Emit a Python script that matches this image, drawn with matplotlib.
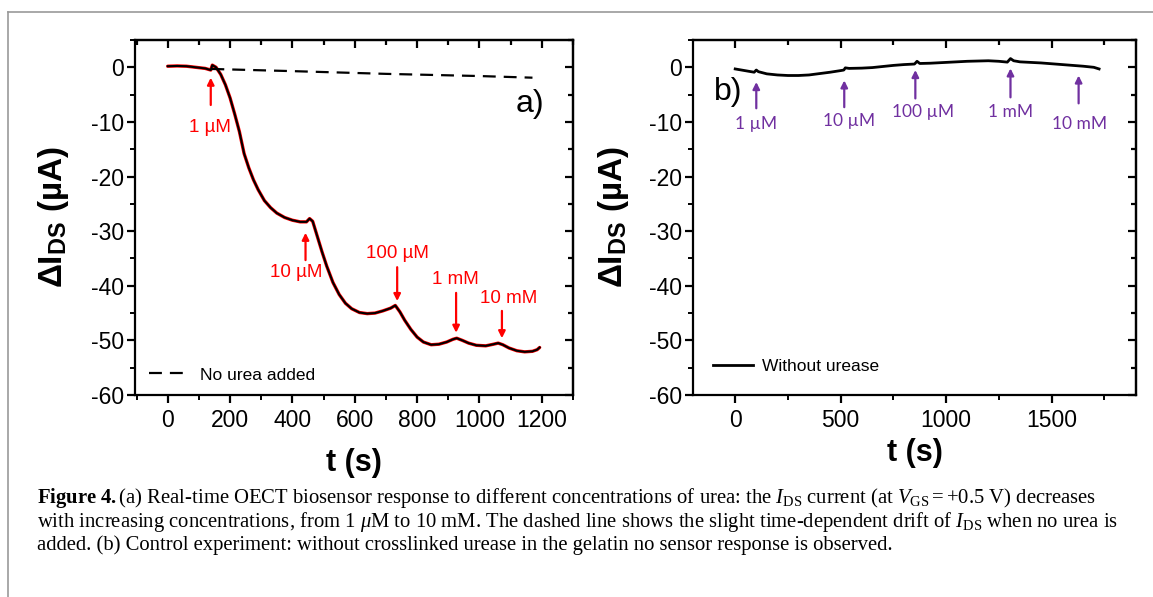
import matplotlib
matplotlib.use('Agg')
import matplotlib.pyplot as plt
from matplotlib.lines import Line2D
from matplotlib.ticker import MultipleLocator

plt.rcParams['font.family'] = ['Liberation Sans', 'DejaVu Sans']
plt.rcParams['axes.unicode_minus'] = False
plt.rcParams['mathtext.fontset'] = 'custom'
plt.rcParams['mathtext.rm'] = 'Liberation Serif'
plt.rcParams['mathtext.it'] = 'Liberation Serif:italic'
plt.rcParams['mathtext.bf'] = 'Liberation Serif:bold'
plt.rcParams['mathtext.sf'] = 'Liberation Sans:bold'

# --- panel a: response to urea ---
t_a = [0, 30, 60, 90, 120, 138, 143, 155, 170, 185, 200, 215, 230, 245, 260, 275, 290,
       310, 330, 350, 375, 400, 425, 445, 455, 465, 480, 495, 510, 530, 550, 570, 590,
       615, 640, 665, 690, 715, 730, 745, 760, 780, 800, 820, 845, 870, 895, 915, 927,
       945, 965, 990, 1020, 1045, 1060, 1075, 1095, 1120, 1145, 1170, 1185, 1193]
i_a = [0.2, 0.25, 0.2, 0.0, -0.2, -0.5, 0.4, 0.0, -1.3, -3.2, -5.6, -8.6, -11.8, -15.8, -18.4,
       -20.6, -22.4, -24.4, -25.7, -26.7, -27.5, -28.0, -28.3, -28.3, -27.7, -28.2, -31.0,
       -33.8, -36.4, -39.4, -41.6, -43.2, -44.2, -44.9, -45.1, -45.0, -44.6, -44.1, -43.6,
       -44.8, -46.3, -48.0, -49.4, -50.3, -50.8, -50.7, -50.3, -49.8, -49.6, -50.0, -50.5,
       -50.9, -51.0, -50.7, -50.5, -50.8, -51.4, -51.9, -52.1, -52.0, -51.7, -51.3]
t_drift = [140, 400, 700, 1000, 1170]
i_drift = [-0.3, -0.7, -1.2, -1.6, -1.9]

conc_labels = ['1 µM', '10 µM', '100 µM', '1 mM', '10 mM']
# arrows for panel a: x, tail y, head y, label x, label y
arr_a_x = [138, 442, 736, 925, 1072]
arr_a_tail = [-6.9, -35.3, -36.6, -41.3, -44.6]
arr_a_head = [-1.9, -30.3, -42.8, -48.6, -49.6]
lab_a_x = [134, 412, 736, 922, 1095]
lab_a_y = [-11.0, -37.6, -34.1, -38.8, -42.3]

# --- panel b: control without urease ---
t_b = [0, 30, 60, 90, 100, 110, 150, 200, 250, 300, 350, 400, 450, 500, 515, 522, 540,
       600, 650, 700, 750, 800, 850, 862, 875, 925, 1000, 1050, 1100, 1150, 1200, 1250,
       1290, 1305, 1320, 1350, 1400, 1450, 1500, 1550, 1600, 1650, 1700, 1725]
i_b = [-0.3, -0.5, -0.7, -0.9, -0.5, -0.8, -1.2, -1.4, -1.5, -1.5, -1.4, -1.15, -0.9,
       -0.6, -0.5, -0.1, -0.2, -0.15, -0.05, 0.15, 0.35, 0.5, 0.6, 1.1, 0.7, 0.75, 0.9,
       1.0, 1.1, 1.15, 1.2, 1.1, 0.95, 1.6, 1.2, 1.0, 0.9, 0.8, 0.65, 0.5, 0.35, 0.2,
       0.0, -0.3]
arr_b_x = [100, 517, 854, 1305, 1628]
arr_b_tail = [-7.5, -7.3, -5.7, -5.5, -6.6]
arr_b_head = [-2.7, -2.4, -0.5, -0.2, -1.5]
lab_b_x = [100, 541, 892, 1305, 1633]
lab_b_y = [-10.4, -9.9, -8.2, -8.2, -10.4]

RED = '#ff0000'
PURPLE = '#7030a0'
W, H = 1153, 597


def style_axes(ax, xlim, xmajor, xminor):
    ax.set_xlim(*xlim)
    ax.set_ylim(-60, 5)
    ax.xaxis.set_major_locator(MultipleLocator(xmajor))
    ax.xaxis.set_minor_locator(MultipleLocator(xminor))
    ax.yaxis.set_major_locator(MultipleLocator(10))
    ax.yaxis.set_minor_locator(MultipleLocator(5))
    for s in ax.spines.values():
        s.set_linewidth(1.6)
    ax.tick_params(which='major', direction='out', length=6, width=1.6, labelsize=16.5, pad=4)
    ax.tick_params(which='minor', direction='out', length=3.5, width=1.4)
    ax.tick_params(axis='y', pad=2)
    # ticks pointing inwards on top and right, like the original
    top = ax.secondary_xaxis('top')
    top.xaxis.set_major_locator(MultipleLocator(xmajor))
    top.xaxis.set_minor_locator(MultipleLocator(xminor))
    top.tick_params(which='both', direction='in', labeltop=False, width=1.6)
    top.tick_params(which='major', length=6)
    top.tick_params(which='minor', length=3.5)
    right = ax.secondary_yaxis('right')
    right.yaxis.set_major_locator(MultipleLocator(10))
    right.yaxis.set_minor_locator(MultipleLocator(5))
    right.tick_params(which='both', direction='in', labelright=False, width=1.6)
    right.tick_params(which='major', length=6)
    right.tick_params(which='minor', length=3.5)
    for sec in (top, right):
        for s in sec.spines.values():
            s.set_linewidth(1.6)


fig = plt.figure(figsize=(W / 100, H / 100), dpi=100)
ax_a = fig.add_axes([135 / W, 1 - 395 / H, 438 / W, 355 / H])
ax_b = fig.add_axes([693 / W, 1 - 395 / H, 443 / W, 355 / H])

# panel a
ax_a.plot(t_a, i_a, color=RED, lw=2.4, solid_capstyle='round')
ax_a.plot(t_a, i_a, color='black', lw=1.5)
ax_a.plot(t_drift, i_drift, color='black', lw=1.6, ls=(0, (5.8, 3.6)), label='No urea added')
for x, y0, y1, lx, ly, lab in zip(arr_a_x, arr_a_tail, arr_a_head, lab_a_x, lab_a_y, conc_labels):
    ax_a.annotate('', xy=(x, y1), xytext=(x, y0),
                  arrowprops=dict(arrowstyle='-|>', color=RED, lw=1.6, mutation_scale=10,
                                  shrinkA=0, shrinkB=0))
    ax_a.text(lx, ly, lab, color=RED, fontsize=13.5, ha='center', va='center')
ax_a.text(1162, -6.8, 'a)', fontsize=23, ha='center', va='center')
style_axes(ax_a, (-105, 1300), 200, 100)
ax_a.legend(loc='lower left', bbox_to_anchor=(0.033, 0.035), frameon=False, fontsize=12.5,
            handlelength=2.3, handletextpad=0.6, borderpad=0, borderaxespad=0)
ax_a.set_xlabel('t (s)', fontsize=22, fontweight='bold')
ax_a.set_ylabel('ΔI$_\\mathsf{DS}$ (µA)', fontsize=24, fontweight='bold')
ax_a.xaxis.set_label_coords(0.5, -0.15)
ax_a.yaxis.set_label_coords(-0.145, 0.5)

# panel b
ax_b.plot(t_b, i_b, color='black', lw=2.0, label='Without urease')
for x, y0, y1, lx, ly, lab in zip(arr_b_x, arr_b_tail, arr_b_head, lab_b_x, lab_b_y, conc_labels):
    ax_b.annotate('', xy=(x, y1), xytext=(x, y0),
                  arrowprops=dict(arrowstyle='-|>', color=PURPLE, lw=1.6, mutation_scale=10,
                                  shrinkA=0, shrinkB=0))
    ax_b.text(lx, ly, lab, color=PURPLE, fontsize=12.5, ha='center', va='center',
              family=['Lato', 'DejaVu Sans'])
ax_b.text(-33, -4.6, 'b)', fontsize=23, ha='center', va='center')
style_axes(ax_b, (-200, 1900), 500, 250)
ax_b.legend(loc='lower left', bbox_to_anchor=(0.045, 0.06), frameon=False, fontsize=12.5,
            handlelength=2.3, handletextpad=0.5, borderpad=0, borderaxespad=0)
ax_b.set_xlabel('t (s)', fontsize=22, fontweight='bold')
ax_b.set_ylabel('ΔI$_\\mathsf{DS}$ (µA)', fontsize=24, fontweight='bold')
ax_b.xaxis.set_label_coords(0.5, -0.12)
ax_b.yaxis.set_label_coords(-0.14, 0.5)

# grey page frame
fig.add_artist(Line2D([8 / W, 1], [1 - 12 / H, 1 - 12 / H], transform=fig.transFigure,
                      color='#999999', lw=1.2))
fig.add_artist(Line2D([8 / W, 8 / W], [0, 1 - 12 / H], transform=fig.transFigure,
                      color='#999999', lw=1.2))

# caption
cap = [
    r'$\mathbf{Figure\ 4.}$(a) Real-time OECT biosensor response to different concentrations of urea: '
    r'the $I_\mathrm{DS}$ current (at $V_\mathrm{GS}=+0.5$ V) decreases',
    r'with increasing concentrations, from 1 $\mu$M to 10 mM. The dashed line shows the slight '
    r'time-dependent drift of $I_\mathrm{DS}$ when no urea is',
    'added. (b) Control experiment: without crosslinked urease in the gelatin no sensor response is observed.',
]
for k, line in enumerate(cap):
    fig.text(37 / W, 1 - (503 + 23.5 * k) / H, line, fontsize=14.9, va='baseline',
             family=['Liberation Serif', 'DejaVu Serif'])

fig.savefig('out.png', dpi=100)
